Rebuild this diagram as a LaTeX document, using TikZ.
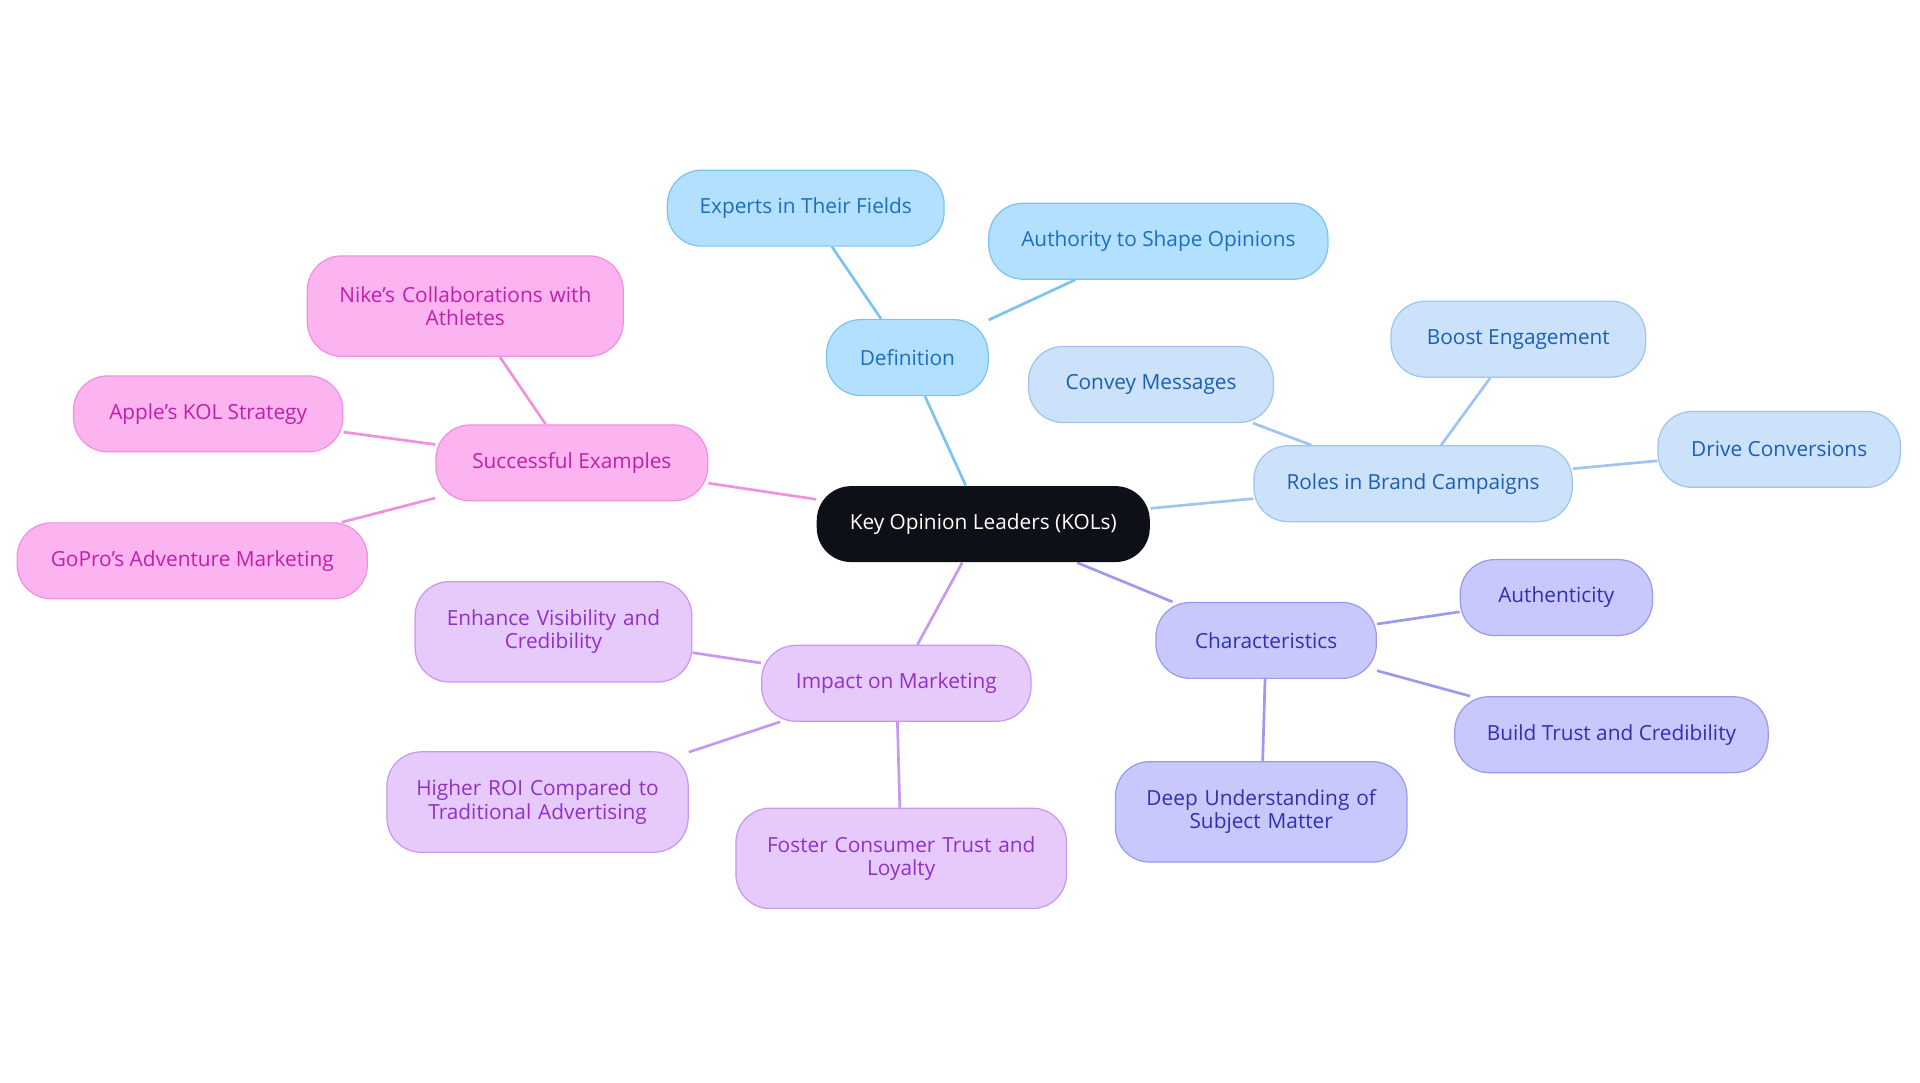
\documentclass[tikz,border=0pt]{standalone}
\usepackage{fontspec}
\setmainfont{Open Sans}
\usetikzlibrary{backgrounds}
\definecolor{cF}{HTML}{B3E0FF}\definecolor{cB}{HTML}{7CC4F0}\definecolor{cT}{HTML}{1A6FC0}
\definecolor{rF}{HTML}{CCE2FB}\definecolor{rB}{HTML}{9EC4F0}\definecolor{rT}{HTML}{1A5FB4}
\definecolor{hF}{HTML}{C8C8FC}\definecolor{hB}{HTML}{9A9AF0}\definecolor{hT}{HTML}{3030B0}
\definecolor{iF}{HTML}{E6CAFC}\definecolor{iB}{HTML}{C898F0}\definecolor{iT}{HTML}{9030C8}
\definecolor{sF}{HTML}{FCB4F0}\definecolor{sB}{HTML}{F090E0}\definecolor{sT}{HTML}{C020A8}
\definecolor{dark}{HTML}{0D1117}
\tikzset{
 base/.style={rounded corners=28pt,minimum height=62pt,align=center,font=\fontsize{17pt}{19pt}\selectfont,line width=1pt,inner sep=2pt},
 two/.style={minimum height=82pt,text width=#1},
 cdef/.style={base,fill=cF,draw=cB,text=cT},
 crol/.style={base,fill=rF,draw=rB,text=rT},
 ccha/.style={base,fill=hF,draw=hB,text=hT},
 cimp/.style={base,fill=iF,draw=iB,text=iT},
 csuc/.style={base,fill=sF,draw=sB,text=sT},
 edge/.style={line width=2.2pt,draw=#1},
}
\begin{document}
\begin{tikzpicture}[x=1pt,y=-1pt]
\useasboundingbox (0,0) rectangle (1568,884);
\node[base,fill=dark,text=white,minimum width=272pt] (c) at (803,428) {Key Opinion Leaders (KOLs)};
\node[cdef,minimum width=132pt] (d) at (741,292) {Definition};
\node[cdef,minimum width=226pt] (d1) at (658,170) {Experts in Their Fields};
\node[cdef,minimum width=277pt] (d2) at (946,197) {Authority to Shape Opinions};
\node[crol,minimum width=260pt] (r) at (1154,395) {Roles in Brand Campaigns};
\node[crol,minimum width=200pt] (r1) at (940,314) {Convey Messages};
\node[crol,minimum width=208pt] (r2) at (1240,277) {Boost Engagement};
\node[crol,minimum width=198pt] (r3) at (1453,367) {Drive Conversions};
\node[ccha,minimum width=180pt] (h) at (1034,523) {Characteristics};
\node[ccha,minimum width=157pt] (h1) at (1271,488) {Authenticity};
\node[ccha,minimum width=256pt] (h2) at (1316,600) {Build Trust and Credibility};
\node[ccha,two=210pt,minimum width=238pt] (h3) at (1030,663) {Deep Understanding of\\Subject Matter};
\node[cimp,minimum width=220pt] (i) at (732,558) {Impact on Marketing};
\node[cimp,two=200pt,minimum width=226pt] (i1) at (452,516) {Enhance Visibility and\\Credibility};
\node[cimp,two=220pt,minimum width=246pt] (i2) at (439,655) {Higher ROI Compared to\\Traditional Advertising};
\node[cimp,two=240pt,minimum width=270pt] (i3) at (736,701) {Foster Consumer Trust and\\Loyalty};
\node[csuc,minimum width=222pt] (s) at (467,378) {Successful Examples};
\node[csuc,two=230pt,minimum width=258pt] (s1) at (380,250) {Nike’s Collaborations with\\Athletes};
\node[csuc,minimum width=220pt] (s2) at (170,338) {Apple’s KOL Strategy};
\node[csuc,minimum width=286pt] (s3) at (157,458) {GoPro’s Adventure Marketing};
\begin{scope}[on background layer]
\draw[edge=cB] (c)--(d) (d)--(d1) (d)--(d2);
\draw[edge=rB] (c)--(r) (r)--(r1) (r)--(r2) (r)--(r3);
\draw[edge=hB] (c)--(h) (h)--(h1) (h)--(h2) (h)--(h3);
\draw[edge=iB] (c)--(i) (i)--(i1) (i)--(i2) (i)--(i3);
\draw[edge=sB] (c)--(s) (s)--(s1) (s)--(s2) (s)--(s3);
\end{scope}
\end{tikzpicture}
\end{document}
